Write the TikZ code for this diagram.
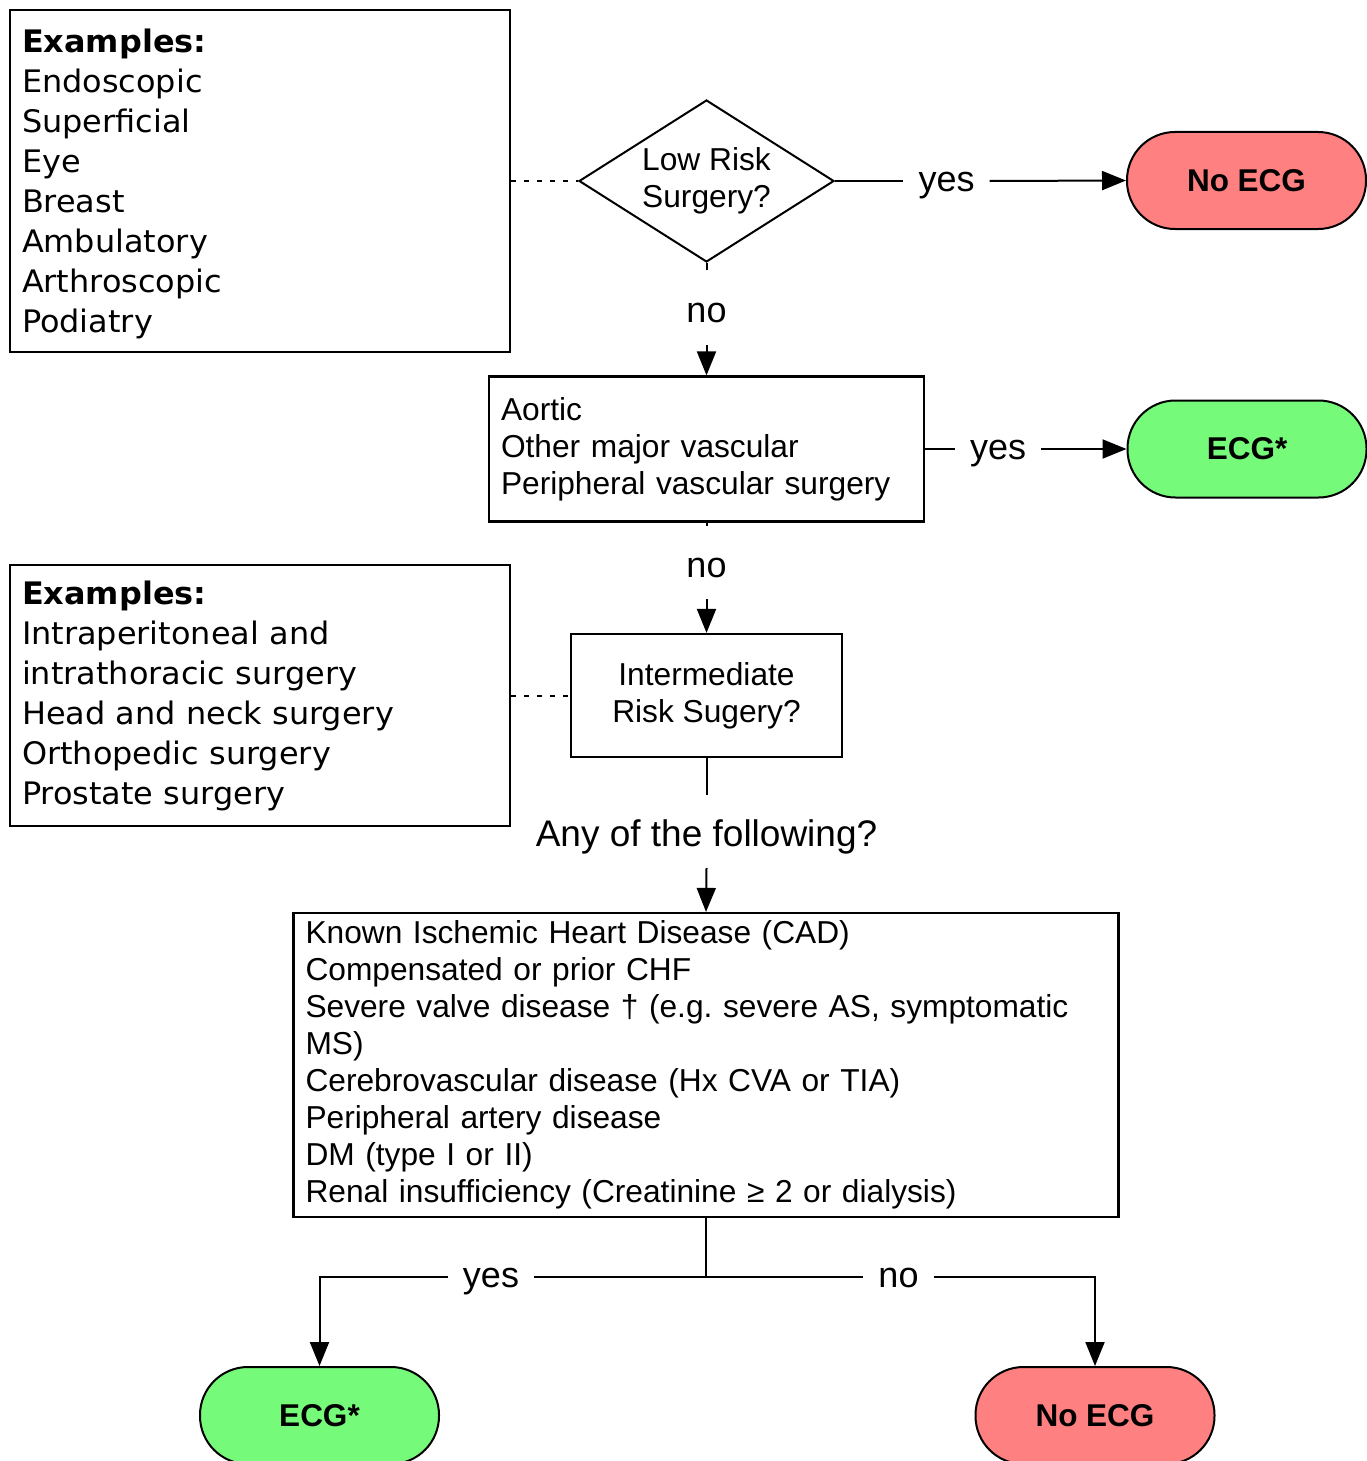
\documentclass[tikz,border=0pt]{standalone}
\usepackage{fontspec}
\setmainfont{Liberation Sans}
\newfontfamily\exfont[FakeStretch=1.03]{DejaVu Sans}
\usetikzlibrary{shapes.geometric,arrows.meta}
\definecolor{redterm}{RGB}{255,128,128}
\definecolor{greenterm}{RGB}{118,250,122}
\frenchspacing
\begin{document}
\begin{tikzpicture}[x=1pt,y=-1pt,
  conn/.style={line width=2pt},
  arr/.style={conn, -{Triangle[length=24pt,width=19pt]}},
  dotline/.style={line width=2pt, dash pattern=on 5pt off 8pt},
  box/.style={draw, line width=2.2pt, rectangle, inner ysep=0pt, inner xsep=12pt,
    font=\fontsize{31.7pt}{37pt}\selectfont},
  exbox/.style={draw, line width=2.2pt, rectangle, inner ysep=0pt, inner xsep=12pt,
    align=left, text width=476pt, minimum width=500pt,
    font={\exfont\fontsize{31pt}{40pt}\selectfont}},
  term/.style={draw, line width=2pt, rounded corners=48pt, minimum width=239pt,
    minimum height=97pt, inner sep=0pt, font=\bfseries\fontsize{31.5pt}{36pt}\selectfont},
  lab/.style={font=\fontsize{36pt}{36pt}\selectfont, inner xsep=15pt, inner ysep=0pt,
    text height=24pt, text depth=3pt},
]
\useasboundingbox (0,0) rectangle (1367,1461);
\clip (0,0) rectangle (1367,1461);

% example boxes
\node[exbox, minimum height=342pt] (ex1) at (260,181)
  {\rule{0pt}{29.6pt}\textbf{Examples:}\\Endoscopic\\Superficial\\Eye\\Breast\\Ambulatory\\Arthroscopic\\Podiatry};
\node[exbox, minimum height=261pt] (ex2) at (260,695.5)
  {\textbf{Examples:}\\Intraperitoneal and\\intrathoracic surgery\\Head and neck surgery\\Orthopedic surgery\\Prostate surgery};

% decision nodes
\node[draw, diamond, line width=2pt, aspect=1.57, minimum width=255pt, minimum height=162pt,
  inner sep=0pt, align=center, font=\fontsize{31.7pt}{37pt}\selectfont] (lr) at (706.5,181)
  {Low Risk\\Surgery?};
\node[box, align=left, text width=411pt, minimum width=435pt, minimum height=145pt] (aortic) at (706.5,449)
  {Aortic\\Other major vascular\\Peripheral vascular surgery};
\node[box, align=center, minimum width=271pt, minimum height=123pt] (interm) at (706.5,695.5)
  {Intermediate\\Risk Sugery?};
\node[box, align=left, text width=801pt, minimum width=825pt, minimum height=304pt] (big) at (706,1065)
  {Known Ischemic Heart Disease (CAD)\\Compensated or prior CHF\\Severe valve disease † (e.g. severe AS, symptomatic\\MS)\\Cerebrovascular disease (Hx CVA or TIA)\\Peripheral artery disease\\DM (type I or II)\\Renal insufficiency (Creatinine ≥ 2 or dialysis)};

% terminals
\node[term, fill=redterm] (noecg1) at (1246.5,180.5) {No ECG};
\node[term, fill=greenterm] (ecg1) at (1247,449) {ECG*};
\node[term, fill=greenterm] (ecg2) at (319.5,1415.5) {ECG*};
\node[term, fill=redterm] (noecg2) at (1095,1415.5) {No ECG};

% labels
\node[lab] (yes1) at (946.5,181) {yes};
\node[lab] (yes2) at (998,449) {yes};
\node[lab] (no1) at (706.5,311.5) {no};
\node[lab] (no2) at (706.5,566.5) {no};
\node[font=\fontsize{37pt}{37pt}\selectfont, inner sep=0pt, text height=27pt, text depth=8pt] (any) at (706.5,836.5) {Any of the following?};
\node[lab] (yes3) at (491,1277) {yes};
\node[lab] (no3) at (898.5,1277) {no};
\coordinate (split) at (706,1277);

% dotted links
\draw[dotline] (ex1.east) -- (lr.west);
\draw[dotline] (ex2.east) -- (interm.west);

% connectors
\draw[conn] (lr.east) -- (yes1.west);
\draw[arr] (yes1.east) -- (noecg1.west);
\draw[conn] (lr.south) -- ([yshift=28pt]no1.north);
\draw[arr] ([yshift=-20pt]no1.south) -- (aortic.north);
\draw[conn] (aortic.east) -- (yes2.west);
\draw[arr] (yes2.east) -- (ecg1.west);
\draw[conn] (aortic.south) -- ([yshift=27pt]no2.north);
\draw[arr] ([yshift=-19pt]no2.south) -- (interm.north);
\draw[conn] (interm.south) -- ([yshift=24pt]any.north);
\draw[arr] ([yshift=-14pt]any.south) -- (big.north);
\draw[conn] (big.south) -- (split) -- (yes3.east);
\draw[arr] (yes3.west) -| (ecg2.north);
\draw[conn] (split) -- (no3.west);
\draw[arr] (no3.east) -| (noecg2.north);
\end{tikzpicture}
\end{document}
